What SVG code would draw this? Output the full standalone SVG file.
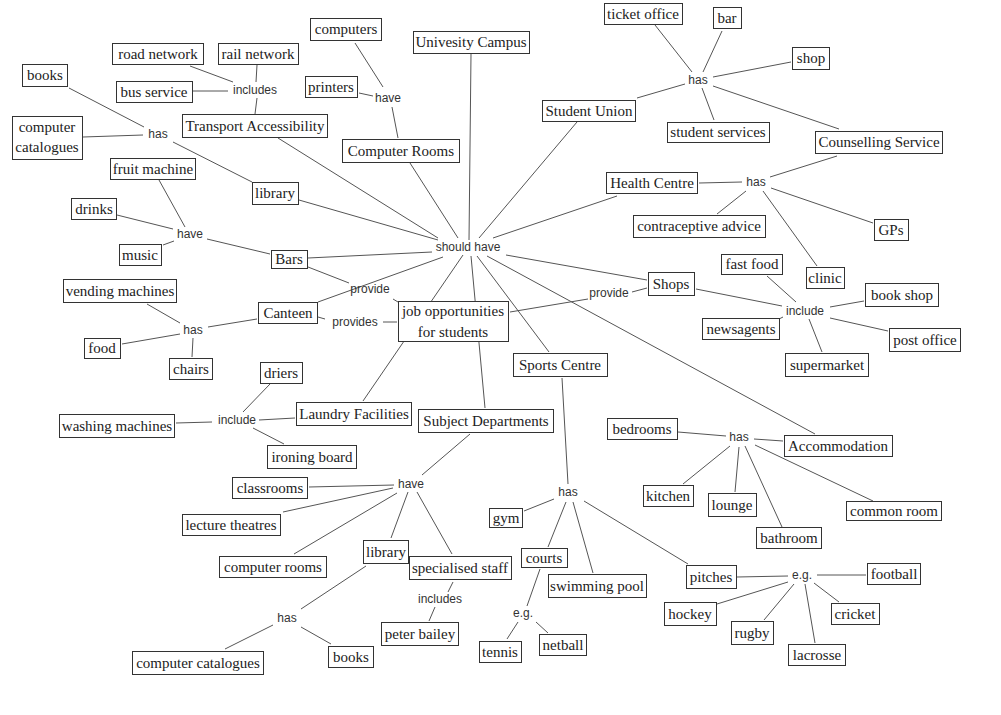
<svg xmlns="http://www.w3.org/2000/svg" width="1001" height="715" viewBox="0 0 1001 715">
<style>
.n rect{fill:#fff;stroke:#333;stroke-width:1}
.n text{font-family:"Liberation Serif","Times New Roman",serif;font-size:15px;fill:#222;text-anchor:middle}
.l{font-family:"Liberation Sans",Arial,sans-serif;font-size:12px;fill:#333;text-anchor:middle}
#edges line{stroke:#555;stroke-width:1}
</style>
<rect width="1001" height="715" fill="#fff"/>
<g id="edges">
<line x1="190" y1="66" x2="233" y2="82"/>
<line x1="257" y1="65" x2="256" y2="82"/>
<line x1="193" y1="91" x2="228" y2="91"/>
<line x1="257" y1="98" x2="255" y2="114"/>
<line x1="69" y1="88" x2="144" y2="127"/>
<line x1="83" y1="137" x2="143" y2="135"/>
<line x1="173" y1="142" x2="252" y2="182"/>
<line x1="278" y1="138" x2="438" y2="238"/>
<line x1="299" y1="200" x2="438" y2="240"/>
<line x1="159" y1="180" x2="185" y2="227"/>
<line x1="117" y1="215" x2="173" y2="229"/>
<line x1="163" y1="245" x2="174" y2="241"/>
<line x1="207" y1="239" x2="270" y2="254"/>
<line x1="308" y1="258" x2="432" y2="252"/>
<line x1="308" y1="267" x2="349" y2="283"/>
<line x1="393" y1="299" x2="398" y2="302"/>
<line x1="318" y1="302" x2="443" y2="257"/>
<line x1="318" y1="317" x2="325" y2="319"/>
<line x1="383" y1="322" x2="397" y2="322"/>
<line x1="147" y1="304" x2="180" y2="323"/>
<line x1="208" y1="327" x2="257" y2="319"/>
<line x1="122" y1="344" x2="180" y2="334"/>
<line x1="193" y1="338" x2="192" y2="357"/>
<line x1="270" y1="384" x2="243" y2="412"/>
<line x1="176" y1="423" x2="212" y2="422"/>
<line x1="259" y1="420" x2="295" y2="418"/>
<line x1="253" y1="428" x2="284" y2="444"/>
<line x1="463" y1="255" x2="363" y2="401"/>
<line x1="471" y1="256" x2="485" y2="408"/>
<line x1="355" y1="43" x2="383" y2="87"/>
<line x1="359" y1="93" x2="373" y2="96"/>
<line x1="392" y1="107" x2="398" y2="138"/>
<line x1="410" y1="163" x2="458" y2="238"/>
<line x1="471" y1="54" x2="469" y2="240"/>
<line x1="577" y1="122" x2="479" y2="238"/>
<line x1="617" y1="196" x2="493" y2="238"/>
<line x1="655" y1="25" x2="692" y2="72"/>
<line x1="722" y1="31" x2="703" y2="72"/>
<line x1="791" y1="62" x2="713" y2="77"/>
<line x1="702" y1="88" x2="714" y2="120"/>
<line x1="713" y1="86" x2="839" y2="129"/>
<line x1="637" y1="98" x2="685" y2="84"/>
<line x1="837" y1="156" x2="770" y2="177"/>
<line x1="699" y1="183" x2="742" y2="182"/>
<line x1="746" y1="191" x2="717" y2="214"/>
<line x1="771" y1="188" x2="873" y2="223"/>
<line x1="763" y1="191" x2="817" y2="266"/>
<line x1="477" y1="256" x2="549" y2="352"/>
<line x1="487" y1="256" x2="815" y2="434"/>
<line x1="506" y1="255" x2="647" y2="280"/>
<line x1="510" y1="312" x2="588" y2="299"/>
<line x1="632" y1="292" x2="647" y2="288"/>
<line x1="696" y1="289" x2="782" y2="306"/>
<line x1="767" y1="276" x2="796" y2="302"/>
<line x1="783" y1="317" x2="779" y2="319"/>
<line x1="830" y1="307" x2="864" y2="301"/>
<line x1="830" y1="318" x2="888" y2="331"/>
<line x1="809" y1="319" x2="822" y2="352"/>
<line x1="678" y1="432" x2="726" y2="436"/>
<line x1="754" y1="439" x2="783" y2="441"/>
<line x1="730" y1="446" x2="683" y2="484"/>
<line x1="739" y1="447" x2="735" y2="492"/>
<line x1="745" y1="446" x2="782" y2="527"/>
<line x1="755" y1="445" x2="873" y2="501"/>
<line x1="470" y1="434" x2="422" y2="475"/>
<line x1="309" y1="487" x2="394" y2="485"/>
<line x1="283" y1="512" x2="393" y2="488"/>
<line x1="294" y1="554" x2="397" y2="493"/>
<line x1="408" y1="492" x2="391" y2="538"/>
<line x1="417" y1="492" x2="452" y2="554"/>
<line x1="453" y1="582" x2="448" y2="592"/>
<line x1="435" y1="607" x2="429" y2="621"/>
<line x1="366" y1="566" x2="301" y2="609"/>
<line x1="273" y1="625" x2="225" y2="649"/>
<line x1="301" y1="627" x2="331" y2="644"/>
<line x1="562" y1="378" x2="568" y2="484"/>
<line x1="554" y1="499" x2="524" y2="511"/>
<line x1="566" y1="502" x2="548" y2="547"/>
<line x1="573" y1="502" x2="593" y2="573"/>
<line x1="584" y1="501" x2="688" y2="564"/>
<line x1="540" y1="569" x2="527" y2="606"/>
<line x1="518" y1="622" x2="507" y2="639"/>
<line x1="536" y1="622" x2="548" y2="633"/>
<line x1="737" y1="577" x2="788" y2="576"/>
<line x1="817" y1="575" x2="866" y2="575"/>
<line x1="788" y1="582" x2="717" y2="604"/>
<line x1="794" y1="584" x2="764" y2="620"/>
<line x1="805" y1="584" x2="815" y2="643"/>
<line x1="814" y1="583" x2="839" y2="602"/>
</g>
<g id="labels">
<text class="l" x="255" y="94">includes</text>
<text class="l" x="158" y="138">has</text>
<text class="l" x="190" y="238">have</text>
<text class="l" x="388" y="102">have</text>
<text class="l" x="468" y="251">should have</text>
<text class="l" x="370" y="293">provide</text>
<text class="l" x="355" y="326">provides</text>
<text class="l" x="609" y="297">provide</text>
<text class="l" x="193" y="334">has</text>
<text class="l" x="237" y="424">include</text>
<text class="l" x="698" y="84">has</text>
<text class="l" x="756" y="186">has</text>
<text class="l" x="805" y="315">include</text>
<text class="l" x="739" y="441">has</text>
<text class="l" x="411" y="488">have</text>
<text class="l" x="287" y="622">has</text>
<text class="l" x="440" y="603">includes</text>
<text class="l" x="568" y="496">has</text>
<text class="l" x="523" y="617">e.g.</text>
<text class="l" x="802" y="579">e.g.</text>
</g>
<g id="road-network" class="n"><rect x="112.5" y="43.5" width="91" height="21"/><text x="158" y="59">road network</text></g>
<g id="rail-network" class="n"><rect x="218.5" y="43.5" width="80" height="21"/><text x="258" y="59">rail network</text></g>
<g id="books-1" class="n"><rect x="22.5" y="64.5" width="45" height="22"/><text x="45" y="80">books</text></g>
<g id="bus-service" class="n"><rect x="116.5" y="81.5" width="76" height="21"/><text x="154" y="97">bus service</text></g>
<g id="transport" class="n"><rect x="182.5" y="114.5" width="145" height="23"/><text x="255" y="131">Transport Accessibility</text></g>
<g id="computer-catalogues-1" class="n"><rect x="12.5" y="116.5" width="70" height="43"/><text x="47" y="132">computer</text><text x="47" y="152">catalogues</text></g>
<g id="fruit-machine" class="n"><rect x="110.5" y="158.5" width="85" height="21"/><text x="153" y="174">fruit machine</text></g>
<g id="library-1" class="n"><rect x="252.5" y="182.5" width="46" height="22"/><text x="275" y="198">library</text></g>
<g id="drinks" class="n"><rect x="71.5" y="198.5" width="45" height="21"/><text x="94" y="214">drinks</text></g>
<g id="music" class="n"><rect x="119.5" y="244.5" width="42" height="21"/><text x="140" y="260">music</text></g>
<g id="bars" class="n"><rect x="271.5" y="250.5" width="36" height="18"/><text x="289" y="264">Bars</text></g>
<g id="vending-machines" class="n"><rect x="63.5" y="279.5" width="113" height="23"/><text x="120" y="296">vending machines</text></g>
<g id="canteen" class="n"><rect x="258.5" y="302.5" width="59" height="21"/><text x="288" y="318">Canteen</text></g>
<g id="food" class="n"><rect x="84.5" y="338.5" width="36" height="20"/><text x="102" y="353">food</text></g>
<g id="chairs" class="n"><rect x="169.5" y="358.5" width="43" height="21"/><text x="191" y="374">chairs</text></g>
<g id="driers" class="n"><rect x="260.5" y="362.5" width="42" height="21"/><text x="281" y="378">driers</text></g>
<g id="washing-machines" class="n"><rect x="59.5" y="414.5" width="115" height="23"/><text x="117" y="431">washing machines</text></g>
<g id="laundry" class="n"><rect x="296.5" y="402.5" width="115" height="23"/><text x="354" y="419">Laundry Facilities</text></g>
<g id="ironing-board" class="n"><rect x="267.5" y="445.5" width="89" height="23"/><text x="312" y="462">ironing board</text></g>
<g id="computers" class="n"><rect x="310.5" y="18.5" width="71" height="22"/><text x="346" y="34">computers</text></g>
<g id="printers" class="n"><rect x="305.5" y="76.5" width="52" height="21"/><text x="331" y="92">printers</text></g>
<g id="campus" class="n"><rect x="413.5" y="31.5" width="116" height="22"/><text x="471" y="47">Univesity Campus</text></g>
<g id="computer-rooms-1" class="n"><rect x="342.5" y="139.5" width="117" height="23"/><text x="401" y="156">Computer Rooms</text></g>
<g id="ticket-office" class="n"><rect x="604.5" y="3.5" width="78" height="21"/><text x="643" y="19">ticket office</text></g>
<g id="bar" class="n"><rect x="713.5" y="7.5" width="28" height="21"/><text x="727" y="23">bar</text></g>
<g id="shop" class="n"><rect x="792.5" y="47.5" width="37" height="22"/><text x="811" y="63">shop</text></g>
<g id="student-union" class="n"><rect x="542.5" y="100.5" width="93" height="21"/><text x="589" y="116">Student Union</text></g>
<g id="student-services" class="n"><rect x="667.5" y="122.5" width="102" height="20"/><text x="718" y="137">student services</text></g>
<g id="counselling" class="n"><rect x="815.5" y="131.5" width="127" height="22"/><text x="879" y="147">Counselling Service</text></g>
<g id="health-centre" class="n"><rect x="606.5" y="172.5" width="91" height="21"/><text x="652" y="188">Health Centre</text></g>
<g id="contraceptive" class="n"><rect x="633.5" y="215.5" width="132" height="22"/><text x="699" y="231">contraceptive advice</text></g>
<g id="gps" class="n"><rect x="874.5" y="219.5" width="34" height="21"/><text x="891" y="235">GPs</text></g>
<g id="clinic" class="n"><rect x="806.5" y="267.5" width="38" height="21"/><text x="825" y="283">clinic</text></g>
<g id="fast-food" class="n"><rect x="721.5" y="254.5" width="61" height="20"/><text x="752" y="269">fast food</text></g>
<g id="shops" class="n"><rect x="648.5" y="272.5" width="46" height="23"/><text x="671" y="289">Shops</text></g>
<g id="book-shop" class="n"><rect x="865.5" y="283.5" width="73" height="23"/><text x="902" y="300">book shop</text></g>
<g id="newsagents" class="n"><rect x="702.5" y="318.5" width="77" height="21"/><text x="741" y="334">newsagents</text></g>
<g id="post-office" class="n"><rect x="889.5" y="328.5" width="71" height="23"/><text x="925" y="345">post office</text></g>
<g id="supermarket" class="n"><rect x="785.5" y="353.5" width="83" height="23"/><text x="827" y="370">supermarket</text></g>
<g id="job" class="n"><rect x="398.5" y="301.5" width="110" height="40"/><text x="453" y="316">job opportunities</text><text x="453" y="337">for students</text></g>
<g id="sports-centre" class="n"><rect x="513.5" y="353.5" width="94" height="23"/><text x="560" y="370">Sports Centre</text></g>
<g id="subject-departments" class="n"><rect x="418.5" y="409.5" width="135" height="23"/><text x="486" y="426">Subject Departments</text></g>
<g id="bedrooms" class="n"><rect x="607.5" y="418.5" width="70" height="21"/><text x="642" y="434">bedrooms</text></g>
<g id="accommodation" class="n"><rect x="784.5" y="435.5" width="108" height="21"/><text x="838" y="451">Accommodation</text></g>
<g id="kitchen" class="n"><rect x="643.5" y="485.5" width="50" height="21"/><text x="668" y="501">kitchen</text></g>
<g id="lounge" class="n"><rect x="708.5" y="493.5" width="48" height="23"/><text x="732" y="510">lounge</text></g>
<g id="bathroom" class="n"><rect x="756.5" y="527.5" width="65" height="21"/><text x="789" y="543">bathroom</text></g>
<g id="common-room" class="n"><rect x="846.5" y="501.5" width="95" height="19"/><text x="894" y="516">common room</text></g>
<g id="classrooms" class="n"><rect x="232.5" y="477.5" width="75" height="21"/><text x="270" y="493">classrooms</text></g>
<g id="lecture-theatres" class="n"><rect x="182.5" y="514.5" width="98" height="21"/><text x="231" y="530">lecture theatres</text></g>
<g id="computer-rooms-2" class="n"><rect x="219.5" y="556.5" width="107" height="21"/><text x="273" y="572">computer rooms</text></g>
<g id="library-2" class="n"><rect x="363.5" y="540.5" width="45" height="23"/><text x="386" y="557">library</text></g>
<g id="specialised-staff" class="n"><rect x="409.5" y="556.5" width="102" height="23"/><text x="460" y="573">specialised staff</text></g>
<g id="peter-bailey" class="n"><rect x="381.5" y="622.5" width="77" height="23"/><text x="420" y="639">peter bailey</text></g>
<g id="computer-catalogues-2" class="n"><rect x="132.5" y="651.5" width="131" height="23"/><text x="198" y="668">computer catalogues</text></g>
<g id="books-2" class="n"><rect x="328.5" y="646.5" width="45" height="21"/><text x="351" y="662">books</text></g>
<g id="gym" class="n"><rect x="489.5" y="508.5" width="33" height="19"/><text x="506" y="523">gym</text></g>
<g id="courts" class="n"><rect x="521.5" y="548.5" width="46" height="19"/><text x="544" y="563">courts</text></g>
<g id="swimming-pool" class="n"><rect x="548.5" y="574.5" width="98" height="23"/><text x="597" y="591">swimming pool</text></g>
<g id="tennis" class="n"><rect x="479.5" y="641.5" width="42" height="21"/><text x="500" y="657">tennis</text></g>
<g id="netball" class="n"><rect x="539.5" y="634.5" width="47" height="21"/><text x="563" y="650">netball</text></g>
<g id="pitches" class="n"><rect x="686.5" y="565.5" width="50" height="23"/><text x="711" y="582">pitches</text></g>
<g id="football" class="n"><rect x="867.5" y="563.5" width="53" height="21"/><text x="894" y="579">football</text></g>
<g id="hockey" class="n"><rect x="664.5" y="602.5" width="52" height="23"/><text x="690" y="619">hockey</text></g>
<g id="cricket" class="n"><rect x="831.5" y="603.5" width="48" height="21"/><text x="855" y="619">cricket</text></g>
<g id="rugby" class="n"><rect x="731.5" y="621.5" width="42" height="23"/><text x="752" y="638">rugby</text></g>
<g id="lacrosse" class="n"><rect x="788.5" y="644.5" width="57" height="21"/><text x="817" y="660">lacrosse</text></g>
</svg>
